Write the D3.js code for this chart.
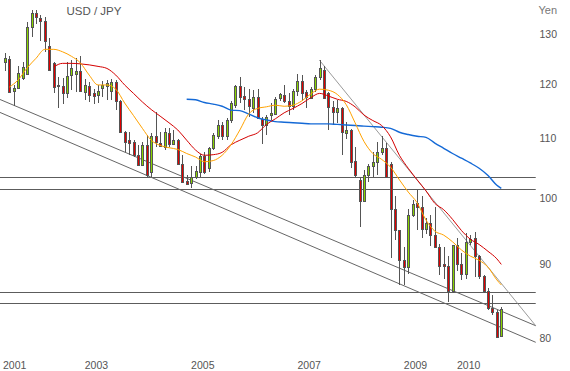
<!DOCTYPE html>
<html>
<head>
<meta charset="utf-8">
<script src="https://cdn.jsdelivr.net/npm/d3@7"></script>
<style>
    body { margin: 0; background: #fff; }
    text { font-family: "Liberation Sans", Arial, sans-serif; fill: #555; }
</style>
</head>
<body>
<svg id="chart" width="570" height="371"></svg>
<script>
// monthly USD/JPY candles, Jul 2001 .. Nov 2010
var firstYear = 2001, firstMonth = 7;

var candleOpen = [
    124.3,124.9,118.7,119.2,121.1,122.0,131.4,134.3,133.2,132.7,
    127.4,124.0,119.6,119.6,118.2,121.7,122.0,122.4,118.4,119.6,
    118.2,117.9,119.3,119.6,118.6,120.4,116.8,111.2,109.7,109.4,
    107.2,105.5,108.9,104.3,110.4,109.2,108.6,110.9,109.0,109.8,
    105.7,102.8,102.4,103.4,104.3,107.0,104.9,108.3,110.5,112.4,
    110.4,113.3,116.0,119.6,117.7,117.1,115.4,117.5,113.4,112.4,
    114.2,114.4,117.3,117.9,116.8,115.8,118.7,120.6,118.4,117.3,
    119.1,121.4,122.7,118.2,115.7,114.7,115.4,111.0,111.5,106.1,
    103.0,99.5,103.8,105.2,106.0,107.6,108.3,105.7,98.3,95.0,
    90.6,89.6,97.4,99.2,98.7,95.3,96.1,94.3,92.6,90.0,
    89.8,86.2,92.9,90.0,88.7,93.3,93.9,91.2,88.3,86.2,
    84.0,83.4,80.3
];
var candleHigh = [
    126.0,125.4,119.8,123.4,124.3,132.4,135.0,135.0,133.9,133.6,
    129.1,124.3,121.4,121.1,124.3,124.7,125.0,125.4,121.0,120.4,
    119.1,119.8,120.6,120.8,121.0,120.8,117.0,111.4,111.2,109.7,
    108.9,109.4,110.6,110.9,114.8,111.2,111.8,111.8,111.5,110.0,
    107.1,103.8,105.2,105.2,107.4,107.7,108.6,110.9,113.3,113.0,
    113.6,116.7,119.8,121.4,119.5,119.0,118.8,119.1,113.9,114.2,
    116.4,117.6,118.2,119.8,118.2,119.1,122.0,121.7,118.8,119.5,
    121.7,124.7,123.4,118.5,116.7,117.0,115.7,113.0,111.7,108.6,
    103.5,104.6,105.7,107.7,109.4,110.4,109.2,106.0,100.3,95.1,
    92.6,98.3,99.7,101.3,100.3,96.9,97.3,98.7,93.0,92.6,
    91.2,92.9,93.8,91.6,94.6,94.3,94.8,91.4,88.5,86.7,
    85.7,83.7,84.1
];
var candleLow = [
    122.4,118.2,115.9,119.1,120.8,122.0,129.4,132.1,128.4,126.2,
    122.4,118.2,115.4,116.2,117.3,118.8,118.5,118.4,117.0,116.5,
    116.2,116.4,117.6,117.0,117.0,115.1,111.2,107.7,107.1,106.8,
    105.5,105.2,103.5,103.5,108.6,108.6,108.0,108.6,108.9,105.6,
    102.4,102.1,101.6,103.2,103.5,104.0,104.3,108.0,110.0,109.7,
    109.7,112.7,115.4,116.4,115.1,113.9,114.6,113.6,109.1,110.6,
    113.3,114.4,116.8,116.4,114.2,115.1,117.8,116.8,115.4,117.3,
    118.5,120.8,117.3,111.5,112.4,112.7,107.1,110.0,104.9,103.5,
    95.6,99.5,102.7,103.5,103.8,107.1,103.3,90.9,93.6,87.1,
    87.1,88.6,97.0,95.1,93.8,94.5,92.7,92.6,88.5,88.0,
    84.8,86.0,89.0,87.8,88.0,92.8,88.2,88.0,86.0,83.7,
    83.0,80.1,80.2
];
var candleClose = [
    125.0,118.5,119.3,122.2,123.2,131.3,134.3,133.6,132.7,128.4,
    122.7,119.5,119.8,118.2,121.5,123.1,122.4,118.6,119.8,117.9,
    117.7,118.6,119.8,120.2,120.4,116.8,111.2,109.4,109.2,107.1,
    105.5,108.9,103.8,110.4,109.4,108.7,111.2,109.1,109.8,105.7,
    102.7,102.3,103.4,104.4,106.9,104.3,108.3,110.7,112.4,110.5,
    113.3,116.4,119.6,117.6,117.1,115.8,117.5,113.6,112.4,113.8,
    114.6,117.1,118.0,116.7,115.8,118.7,120.6,118.2,117.6,119.1,
    121.4,123.0,117.3,115.7,114.8,115.4,111.2,111.5,106.0,103.8,
    99.5,103.8,105.2,106.0,107.7,108.3,103.5,98.3,95.0,90.7,
    89.6,97.4,99.1,98.7,95.3,96.1,94.3,92.6,89.7,89.7,
    86.2,92.9,90.0,88.7,93.3,93.7,91.2,88.3,86.2,84.0,
    83.4,80.2,83.8
];

// moving averages: [candle index, price]
var orangeMA = [[1,119.4],[3,120.8],[5,123.1],[7,125.0],[9,126.8],[11,126.8],[13,126.3],[15,125.4],[17,124.1],[19,121.7],
    [21,119.8],[23,119.8],[25,119.0],[27,116.4],[29,114.1],[31,111.8],[33,109.7],[35,108.8],[37,108.4],[39,108.1],
    [41,107.4],[43,106.8],[45,106.0],[47,106.2],[49,107.1],[51,108.9],[53,111.5],[55,114.4],[57,115.4],[59,115.7],
    [61,116.0],[63,115.8],[65,116.0],[67,116.8],[69,118.1],[71,119.0],[73,118.8],[75,118.0],[77,116.1],[79,112.8],
    [81,109.5],[83,107.4],[85,106.4],[87,105.1],[89,103.0],[91,101.0],[93,99.3],[95,96.6],[97,94.9],[99,94.3],
    [101,93.3],[103,92.1],[105,91.2],[107,90.6],[109,89.6],[111,87.8],[112,87.1]];
var redMA = [[11,123.3],[13,124.0],[15,124.0],[17,123.9],[19,123.7],[21,123.4],[23,123.0],[25,121.7],[27,119.8],[29,118.2],
    [31,116.6],[33,115.2],[35,114.0],[37,112.8],[39,111.5],[41,109.7],[43,108.0],[45,107.1],[47,107.2],[49,107.6],
    [51,108.9],[53,109.7],[55,110.4],[57,111.0],[59,112.5],[61,113.5],[63,114.6],[65,115.4],[67,116.3],[69,117.4],
    [71,118.2],[73,117.7],[75,117.1],[77,116.7],[79,115.7],[81,114.2],[83,113.2],[85,112.3],[87,110.3],[89,107.1],
    [91,104.9],[93,103.0],[95,101.2],[97,99.2],[99,98.2],[101,96.7],[103,95.0],[105,93.7],[107,92.9],[109,91.9],
    [111,90.8],[112,90.0]];
var blueMA = [[41,117.1],[43,117.0],[45,116.5],[47,116.2],[49,115.8],[51,115.1],[53,115.0],[55,114.4],[57,113.7],[59,113.3],
    [61,113.0],[63,112.9],[65,112.8],[67,112.7],[69,112.6],[71,112.6],[73,112.6],[75,112.5],[77,112.4],[79,112.3],
    [81,112.2],[83,112.1],[85,112.0],[87,111.8],[89,111.1],[91,110.7],[93,110.4],[95,110.2],[97,109.2],[99,108.3],
    [101,107.4],[103,106.6],[105,105.8],[107,104.9],[109,103.7],[111,102.1],[112,101.6]];

// support / resistance drawn on the chart
var levels = [103.4, 101.45, 86.1, 84.6];
var levelSpan = [-1.13, 119.77];
var channelUpper = [[-1.13, 117.06], [119.77, 81.62]];
var channelLower = [[-1.13, 114.67], [119.77, 79.49]];
var downTrend = [[70.93, 124.66], [119.77, 81.62]];

var yearLabels = [2001, 2003, 2005, 2007, 2009, 2010];
var priceTicks = [80, 90, 100, 110, 120, 130];

var svg = d3.select('#chart');

var x = d3.scaleLinear().domain([0, candleClose.length - 1]).range([5, 501.3]);
var y = d3.scaleLog().domain([80, 130]).range([338.3, 33.7]);

// horizontal levels
svg.append('g').selectAll('line')
    .data(levels)
    .enter().append('line')
    .attr('x1', x(levelSpan[0]))
    .attr('x2', x(levelSpan[1]))
    .attr('y1', function (d) { return Math.round(y(d)) + 0.5; })
    .attr('y2', function (d) { return Math.round(y(d)) + 0.5; })
    .style('stroke', '#5c5c5c')
    .style('stroke-width', 1.2);

var trend = d3.line()
    .x(function (d) { return x(d[0]); })
    .y(function (d) { return y(d[1]); });

svg.append('path').datum(channelUpper).attr('d', trend)
    .style('fill', 'none').style('stroke', '#666').style('stroke-width', 1);
svg.append('path').datum(channelLower).attr('d', trend)
    .style('fill', 'none').style('stroke', '#666').style('stroke-width', 1);
svg.append('path').datum(downTrend).attr('d', trend)
    .style('fill', 'none').style('stroke', '#808080').style('stroke-width', 0.8);

// candles
var candles = svg.append('g').selectAll('g')
    .data(candleClose)
    .enter().append('g');

candles.append('line')
    .attr('x1', function (d, i) { return Math.round(x(i)) + 0.5; })
    .attr('x2', function (d, i) { return Math.round(x(i)) + 0.5; })
    .attr('y1', function (d, i) { return Math.round(y(candleHigh[i])); })
    .attr('y2', function (d, i) { return Math.round(y(candleLow[i])); })
    .style('stroke', '#555')
    .style('stroke-width', 1);

candles.append('rect')
    .attr('x', function (d, i) { return Math.round(x(i)) - 0.5; })
    .attr('width', 2)
    .attr('y', function (d, i) { return Math.round(y(Math.max(candleOpen[i], d))) + 0.5; })
    .attr('height', function (d, i) {
        var top = Math.round(y(Math.max(candleOpen[i], d)));
        var bottom = Math.round(y(Math.min(candleOpen[i], d)));
        return Math.max(1, bottom - top);
    })
    .style('fill', function (d, i) { return d >= candleOpen[i] ? '#88d400' : '#e00000'; })
    .style('stroke', '#555')
    .style('stroke-width', 1);

// moving averages
var maLine = d3.line()
    .curve(d3.curveMonotoneX)
    .x(function (d) { return x(d[0]); })
    .y(function (d) { return y(d[1]); });

svg.append('path').datum(blueMA).attr('d', maLine)
    .style('fill', 'none').style('stroke', '#1469d6').style('stroke-width', 1.4);
svg.append('path').datum(redMA).attr('d', maLine)
    .style('fill', 'none').style('stroke', '#d40000').style('stroke-width', 1);
svg.append('path').datum(orangeMA).attr('d', maLine)
    .style('fill', 'none').style('stroke', '#ffa200').style('stroke-width', 1);

// price axis on the right
var yAxis = svg.append('g')
    .attr('transform', 'translate(539.5,0)')
    .call(d3.axisRight(y).tickValues(priceTicks).tickSize(0).tickPadding(0).tickFormat(d3.format('d')));
yAxis.select('.domain').remove();
yAxis.selectAll('text')
    .style('font-size', '10.5px')
    .style('fill', '#555')
    .style('font-family', '"Liberation Sans", Arial, sans-serif');

svg.append('text')
    .attr('x', 538.5)
    .attr('y', 13.5)
    .style('font-size', '11px')
    .style('fill', '#777')
    .text('Yen');

// year labels, left aligned on January
svg.append('g').selectAll('text')
    .data(yearLabels)
    .enter().append('text')
    .attr('x', function (d) {
        var idx = (d - firstYear) * 12 + 1 - firstMonth;
        return Math.max(3, x(idx));
    })
    .attr('y', 369)
    .style('font-size', '10.5px')
    .text(function (d) { return d; });

svg.append('text')
    .attr('x', 66.5)
    .attr('y', 15)
    .style('font-size', '11.5px')
    .text('USD / JPY');
</script>
</body>
</html>
